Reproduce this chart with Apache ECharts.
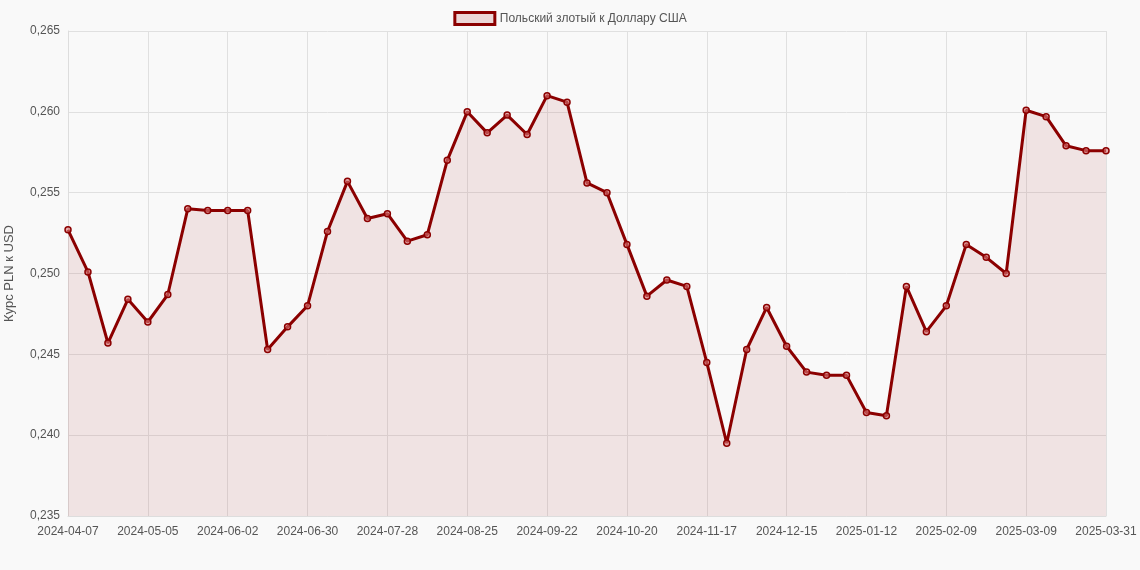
<!DOCTYPE html><html><head><meta charset="utf-8"><script src="https://cdn.jsdelivr.net/npm/echarts@6/dist/echarts.min.js"></script>
<style>html,body{margin:0;background:#f9f9f9}#c{width:1140px;height:570px}</style></head><body><div id="c"></div><script>
const categories=(function(){const a=[];let d=new Date(Date.UTC(2024,3,7));for(let i=0;i<52;i++){a.push(d.toISOString().slice(0,10));d=new Date(d.getTime()+7*864e5);}a.push('2025-03-31');return a;})();
const values=[0.2527,0.2501,0.2457,0.2484,0.2470,0.2487,0.2540,0.2539,0.2539,0.2539,0.2453,0.2467,0.2480,0.2526,0.2557,0.2534,0.2537,0.2520,0.2524,0.2570,0.2600,0.2587,0.2598,0.2586,0.2610,0.2606,0.2556,0.2550,0.2518,0.2486,0.2496,0.2492,0.2445,0.2395,0.2453,0.2479,0.2455,0.2439,0.2437,0.2437,0.2414,0.2412,0.2492,0.2464,0.2480,0.2518,0.2510,0.2500,0.2601,0.2597,0.2579,0.2576,0.2576];
const seriesName='Польский злотый к Доллару США';
const c=echarts.init(document.getElementById('c'));
c.setOption({backgroundColor:'#f9f9f9',animation:false,
legend:{top:6,itemWidth:40,itemHeight:12,icon:'rect',textStyle:{color:'#555',fontSize:12,fontFamily:'Arial'},data:[{name:seriesName,itemStyle:{color:'rgba(180,60,60,0.18)',borderColor:'#8b0000',borderWidth:3}}]},
grid:{left:68,right:34,top:31,bottom:54,outerBoundsMode:'none'},
xAxis:{type:'category',boundaryGap:false,data:categories,axisLine:{lineStyle:{color:'#ddd'}},axisTick:{show:false},axisLabel:{interval:3,color:'#555',fontSize:12,margin:10},splitLine:{show:true,interval:3,lineStyle:{color:'#e0e0e0'}}},
yAxis:{type:'value',min:0.235,max:0.265,interval:0.005,name:'Курс PLN к USD',nameLocation:'middle',nameGap:52,nameTextStyle:{color:'#555',fontSize:13},axisLine:{show:true,lineStyle:{color:'#ddd'}},axisLabel:{color:'#555',fontSize:12,formatter:v=>v.toFixed(3).replace('.',',')},splitLine:{lineStyle:{color:'#e0e0e0'}}},
series:[{name:seriesName,type:'line',data:values,symbol:'circle',symbolSize:6,lineStyle:{color:'#8b0000',width:3},itemStyle:{color:'rgba(220,120,120,0.6)',borderColor:'#8b0000',borderWidth:1.5},areaStyle:{color:'rgba(180,60,60,0.16)'}}]});
</script></body></html>
